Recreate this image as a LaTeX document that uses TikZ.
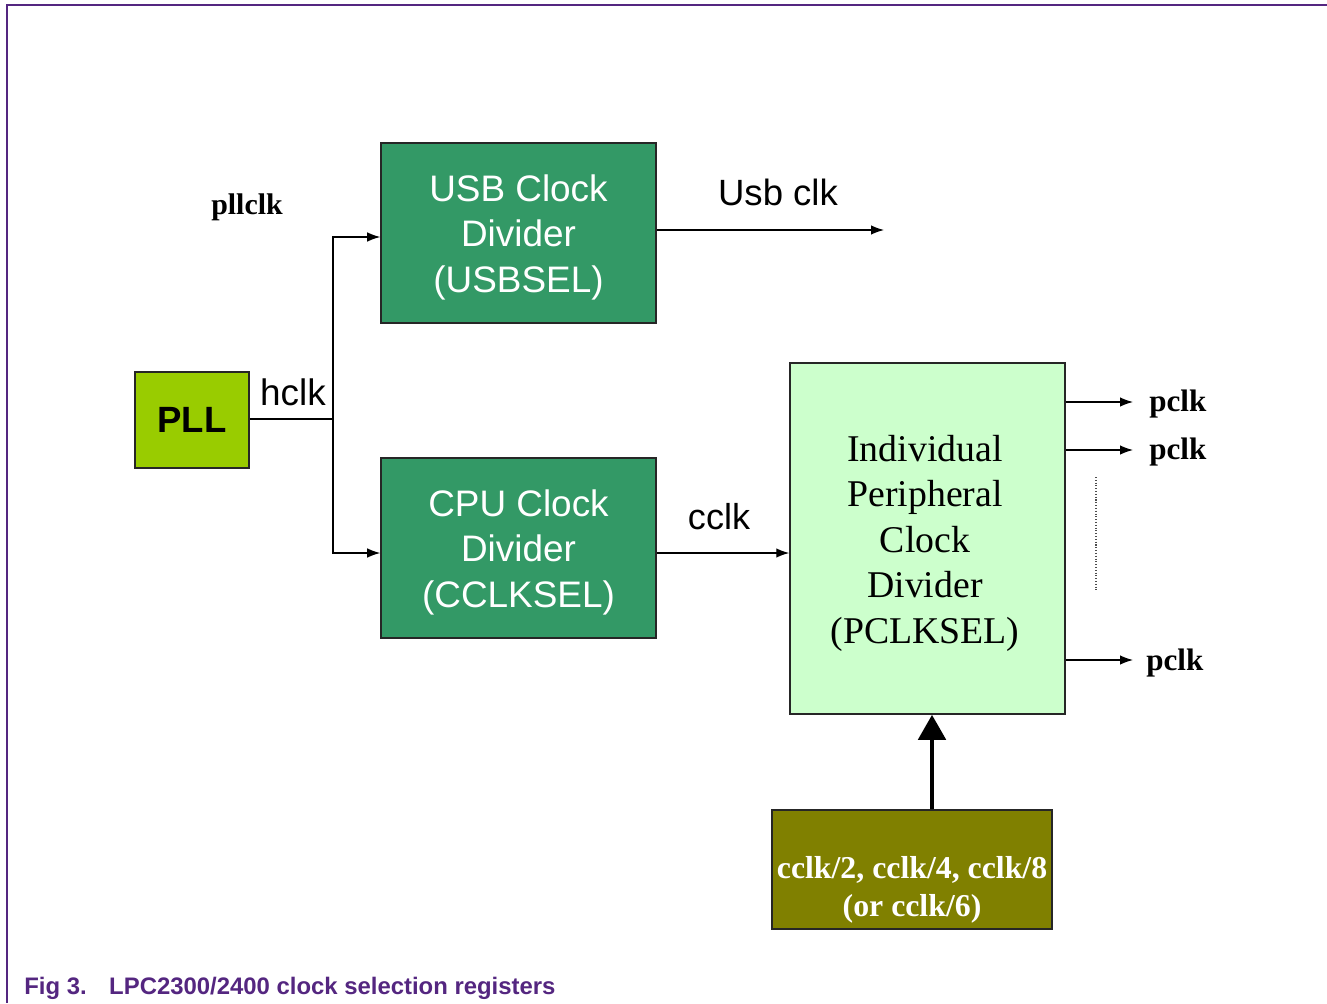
\documentclass[tikz,border=0pt]{standalone}
\usepackage{fontspec}
\setmainfont{Liberation Serif}
\setsansfont{Liberation Sans}
\usepackage{tikz}
\usetikzlibrary{calc}
\usetikzlibrary{positioning}
\usetikzlibrary{arrows.meta}
\definecolor{figpurple}{RGB}{84,38,128}
\definecolor{pllgreen}{RGB}{153,204,0}
\definecolor{divgreen}{RGB}{51,153,102}
\definecolor{palegreen}{RGB}{204,255,204}
\definecolor{olive}{RGB}{128,128,0}

\begin{document}
\begin{tikzpicture}[x=0.02cm, y=-0.02cm, >={Latex[length=0.26cm,width=0.19cm]},
box/.style={draw=black!85, line width=0.9pt, inner sep=0pt, align=center},
sansbox/.style={box, fill=divgreen, minimum width=5.5cm, minimum height=3.6cm},
sanstext/.style={align=center, text=white, inner sep=0pt, font=\sffamily\fontsize{21}{25.9}\selectfont},
wire/.style={line width=0.7pt},
pclklabel/.style={anchor=west, inner sep=0pt, font=\bfseries\fontsize{17.7}{20}\selectfont}]

\useasboundingbox (0,0) rectangle (1327,1003);
\draw [figpurple, line width=1.1pt] (1327,5) -- (7,5) -- (7,1003);

\node [box, fill=pllgreen, minimum width=2.28cm, minimum height=1.92cm,
  font=\sffamily\bfseries\fontsize{20.8}{24}\selectfont] (pll) at (192,420) {PLL};
\node [sansbox] (usb) at (518.5,233) {};
\node [sanstext] (usbtxt) at (518.5,237) {USB Clock\\Divider\\(USBSEL)};
\node [sansbox] (cpu) at (518.5,548) {};
\node [sanstext] (cputxt) at (518.5,552) {CPU Clock\\Divider\\(CCLKSEL)};
\node [box, fill=palegreen, minimum width=5.5cm, minimum height=7.02cm] (pclk) at (927.5,538.5) {};
\node [align=center, inner sep=0pt, font=\fontsize{21.5}{25.9}\selectfont]
  (pclktxt) at (925,543) {Individual\\Peripheral\\Clock\\Divider\\(PCLKSEL)};
\node [box, fill=olive, minimum width=5.6cm, minimum height=2.38cm] (sel) at (912,869.5) {};
\node [align=center, text=white, inner sep=0pt, font=\bfseries\fontsize{18.1}{21.6}\selectfont]
  (seltxt) at (912,890) {cclk/2, cclk/4, cclk/8\\(or cclk/6)};

\coordinate (hub) at (333,419);
\draw [wire] (pll.east |- hub) -- (hub);
\draw [wire,->] (hub) |- ($(usb.west)+(0,4)$);
\draw [wire,->] (hub) |- ($(cpu.west)+(0,5)$);

\coordinate (usbclk) at (884,230);
\draw [wire,->] (usb.east |- usbclk) -- (usbclk);
\draw [wire,->] ($(cpu.east)+(0,5)$) -- ($(cpu.east -| pclk.west)+(0,5)$);

\coordinate (p1) at (1133,402);
\coordinate (p2) at (1133,450);
\coordinate (p3) at (1133,660);
\draw [wire,->] (p1 -| pclk.east) -- (p1);
\draw [wire,->] (p2 -| pclk.east) -- (p2);
\draw [wire,->] (p3 -| pclk.east) -- (p3);
\node [pclklabel, right = 0.32cm of p1, yshift=-0.05cm] (pclka) {pclk};
\node [pclklabel, right = 0.32cm of p2, yshift=-0.05cm] (pclkb) {pclk};
\node [pclklabel, right = 0.26cm of p3, yshift=-0.06cm] (pclkc) {pclk};
\draw [black!70, densely dotted, line width=0.6pt] (1096,477) -- (1096,590);

\draw [line width=2.8pt, -{Triangle[length=0.5cm,width=0.54cm]}] (sel.north -| 932,0) -- (pclk.south -| 932,0);

\node [font=\bfseries\fontsize{17}{20}\selectfont] (pllclk) at (247,207) {pllclk};
\node [font=\sffamily\fontsize{21}{24}\selectfont] (hclk) at (293,392) {hclk};
\node [font=\sffamily\fontsize{20.8}{24}\selectfont] (usblab) at (778,192) {Usb clk};
\node [font=\sffamily\fontsize{20.5}{24}\selectfont] (cclk) at (719,517) {cclk};

\node [anchor=base west, inner sep=0pt, text=figpurple, font=\sffamily\bfseries\fontsize{13.6}{16}\selectfont]
  (caption) at (24,994) {Fig 3.\hspace{0.45cm}LPC2300/2400 clock selection registers};
\end{tikzpicture}
\end{document}
